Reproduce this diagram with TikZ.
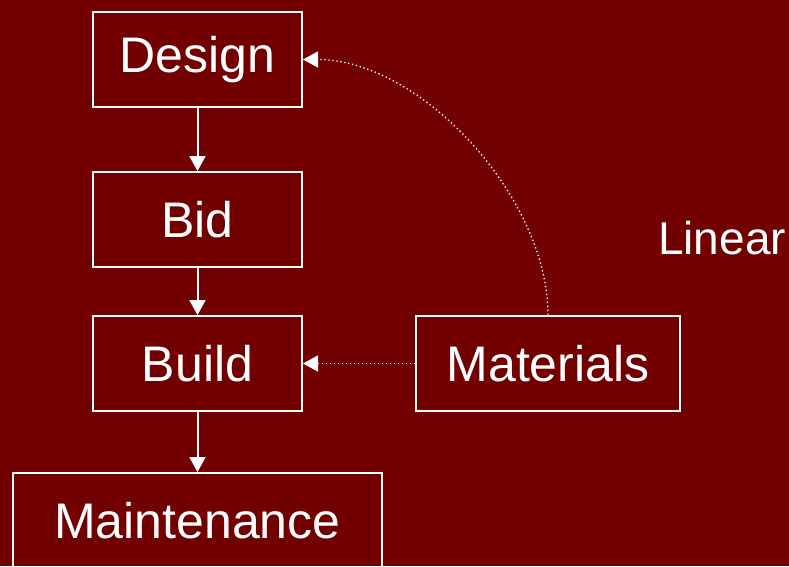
\documentclass[tikz,border=0pt]{standalone}
\usepackage{fontspec}
\setmainfont{Liberation Sans}
\usetikzlibrary{arrows.meta}
\definecolor{maroon}{RGB}{114,0,0}
\tikzset{
  stage/.style={rectangle, draw=white, line width=2pt, text=white, minimum height=95pt, inner sep=0pt},
  flow/.style={draw=white, line width=2pt, -{Triangle[length=15pt,width=16pt]}},
  feed/.style={flow, line width=1.3pt, dash pattern=on 1.3pt off 2.7pt}
}

\begin{document}
\begin{tikzpicture}[x=1pt, y=-1pt, font=\fontsize{50}{60}\selectfont]
    \fill[maroon] (0,0) rectangle (789,566);
    \useasboundingbox (0,0) rectangle (789,566);

    \draw
    (197.5, 59.5) node[stage, minimum width=209pt](Design){Design}
    (197.5, 219.5) node[stage, minimum width=209pt](Bid){Bid}
    (197.5, 363.5) node[stage, minimum width=209pt](Build){Build}
    (197.5, 520.5) node[stage, minimum width=369pt](Maintenance){Maintenance}
    (548, 363.5) node[stage, minimum width=264pt](Materials){Materials}
    (722, 238) node[text=white, font=\fontsize{46}{55}\selectfont](Linear){Linear};

    \draw[flow] (Design) -- (Bid);
    \draw[flow] (Bid) -- (Build);
    \draw[flow] (Build) -- (Maintenance);
    \draw[feed] (Materials) -- (Build);
    \draw[feed] (Materials.north) to[out=90, in=0, looseness=0.85] (Design.east);

  \end{tikzpicture}
\end{document}
